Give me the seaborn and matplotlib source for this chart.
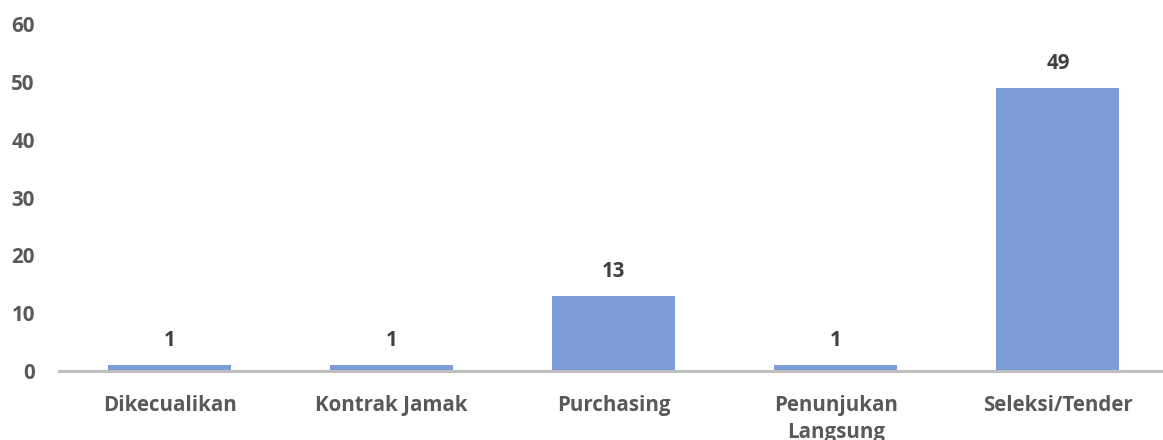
import matplotlib
matplotlib.use("Agg")
import matplotlib.pyplot as plt
import pandas as pd
import seaborn as sns

categories = ["Dikecualikan", "Kontrak Jamak", "Purchasing", "Penunjukan\nLangsung", "Seleksi/Tender"]
counts = [1, 1, 13, 1, 49]
yticks = [0, 10, 20, 30, 40, 50, 60]

sns.set_style("white")
plt.rcParams["font.family"] = ["Open Sans", "DejaVu Sans"]

df = pd.DataFrame({"metode": categories, "jumlah": counts})

fig = plt.figure(figsize=(11.63, 4.4), dpi=100)
ax = fig.add_axes([58.5 / 1163, 69 / 440, (1169 - 58.5) / 1163, (371 - 24) / 440])
sns.barplot(data=df, x="metode", y="jumlah", color="#7C9CD5", width=0.554,
            saturation=1, ax=ax, edgecolor="none")

ax.set_ylim(0, 60); ax.set_xlim(-0.5, 4.5)
ax.set_yticks(yticks)
ax.set_xlabel(""); ax.set_ylabel("")
for s in ["top", "right", "left"]:
    ax.spines[s].set_visible(False)
ax.spines["bottom"].set_color("#BFBFBF"); ax.spines["bottom"].set_linewidth(2.2)
ax.tick_params(axis="both", length=0, labelsize=14.8, labelcolor="#595959")
ax.tick_params(axis="y", pad=17)
ax.tick_params(axis="x", pad=17)
for lbl in ax.get_xticklabels() + ax.get_yticklabels():
    lbl.set_fontweight("bold")
for lbl in ax.get_xticklabels():
    lbl.set_linespacing(1.4)

ax.bar_label(ax.containers[0], padding=10, fontsize=14.8, fontweight="bold", color="#404040")

fig.savefig("out.png", dpi=100)
